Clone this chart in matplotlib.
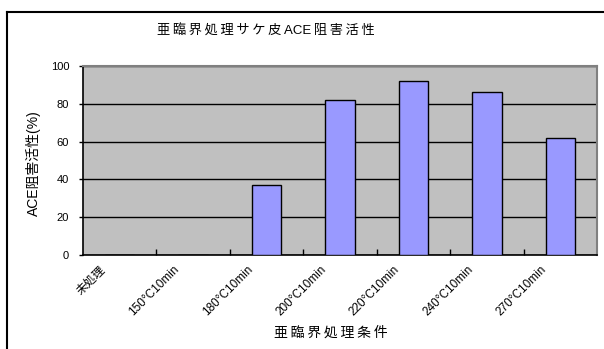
import matplotlib
matplotlib.use("Agg")
import matplotlib.pyplot as plt
import matplotlib.transforms as mtransforms
from matplotlib.lines import Line2D

plt.rcParams['font.family'] = ['Liberation Sans', 'Noto Sans CJK JP', 'DejaVu Sans']

categories = ["未処理", "150°C10min", "180°C10min", "200°C10min", "220°C10min", "240°C10min", "270°C10min"]
values = [0, 0, 37, 82, 92, 86, 62]
yticks = [0, 20, 40, 60, 80, 100]

title_parts = ["亜", "臨", "界", "処", "理", "サ", "ケ", "皮", "ACE", "阻", "害", "活", "性"]
xlabel = "亜臨界処理条件"
ylabel = "ACE阻害活性(%)"

SEP = "\u2009"

W, H = 604, 349
fig = plt.figure(figsize=(W / 100, H / 100), dpi=100)
fig.patch.set_facecolor("white")

# outer chart border
fig.add_artist(Line2D([7 / W, 1.0], [1 - 12 / H, 1 - 12 / H], color="black", lw=1.5, transform=fig.transFigure))
fig.add_artist(Line2D([7 / W, 7 / W], [0.0, 1 - 12 / H], color="black", lw=1.5, transform=fig.transFigure))

ax = fig.add_axes([83 / W, (H - 255) / H, (597 - 83) / W, (255 - 66) / H])
ax.set_facecolor("#C0C0C0")

x = list(range(len(categories)))
ax.bar(x, values, width=0.4, color="#9999FF", edgecolor="black", linewidth=1.0, zorder=3)

ax.set_xlim(-0.5, len(categories) - 0.5)
ax.set_ylim(0, 100)
ax.set_yticks(yticks)
ax.yaxis.grid(True, color="black", linewidth=1.0, zorder=1)
ax.set_axisbelow(True)

ax.tick_params(axis="y", direction="out", length=3, width=1, labelsize=8, pad=7)
ax.set_yticklabels([str(v) for v in yticks])

# category boundary ticks (minor) pointing inward
ax.set_xticks([i + 0.5 for i in x[:-1]], minor=True)
ax.set_xticks(x)
ax.tick_params(axis="x", which="minor", direction="in", length=4, width=1)
ax.tick_params(axis="x", which="major", length=0, labelsize=8.5, pad=2)
ax.set_xticklabels(categories, rotation=45, ha="right", va="top", rotation_mode="anchor")
offset = mtransforms.ScaledTranslation(-20 / 100, -6 / 100, fig.dpi_scale_trans)
for lbl in ax.get_xticklabels():
    lbl.set_transform(lbl.get_transform() + offset)

for s in ["top", "right"]:
    ax.spines[s].set_color("#808080")
    ax.spines[s].set_linewidth(1.5)
for s in ["left", "bottom"]:
    ax.spines[s].set_color("black")
    ax.spines[s].set_linewidth(1.2)

fig.text(266 / W, 1 - 31 / H, SEP.join(title_parts), ha="center", va="center", fontsize=9.5)
fig.text(331 / W, 1 - 333 / H, SEP.join(xlabel), ha="center", va="center", fontsize=10)
fig.text(33 / W, 1 - 163 / H, ylabel, ha="center", va="center", fontsize=10, rotation=90)

fig.savefig("out.png", dpi=100)
